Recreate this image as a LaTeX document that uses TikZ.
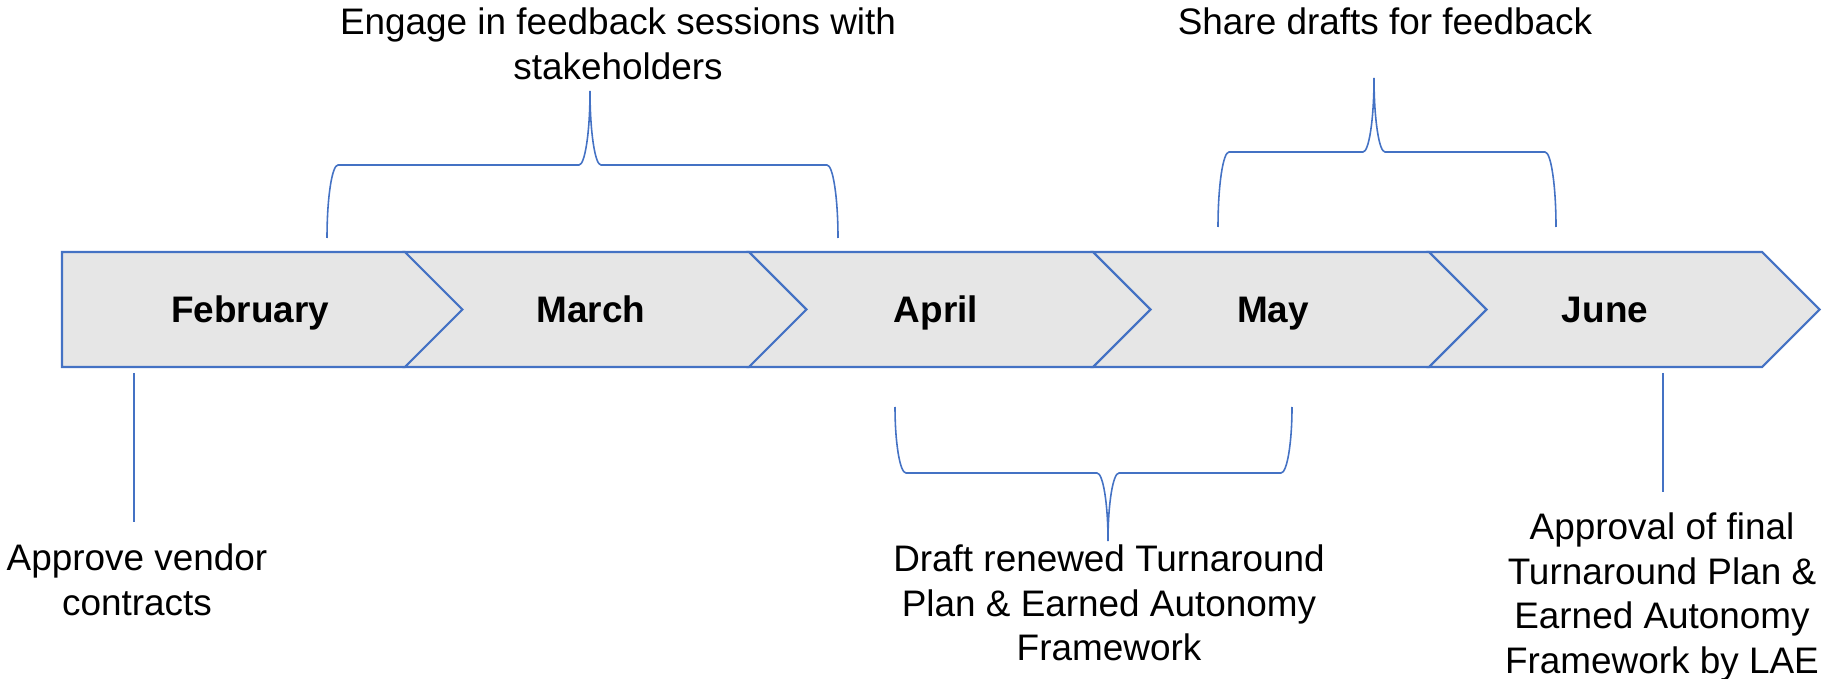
\documentclass[tikz,border=0pt]{standalone}
\usepackage{fontspec}
\setmainfont{Liberation Sans}
\usepackage{tikz}
\usetikzlibrary{calc,positioning}
\definecolor{rim}{HTML}{4472C4}
\definecolor{band}{HTML}{E6E6E6}
\definecolor{ink}{HTML}{000000}

\begin{document}
\begin{tikzpicture}[x=1cm,y=1cm,font=\fontsize{10.5}{12.7}\selectfont,
  chev/.style={draw=rim,fill=band,line width=0.6pt,line join=miter},
  curly/.style={draw=rim,line width=0.45pt},
  tick/.style={draw=rim,line width=0.45pt},
  month/.style={anchor=base,font=\fontsize{10.5}{12.7}\selectfont\bfseries,text=ink},
  note/.style={anchor=north,align=center,inner sep=0pt,text=ink}]
\useasboundingbox (0,0) rectangle (18.24,6.78);
% band: top 4.26, bottom 3.11, point depth 0.575
\draw[chev] (0.62,4.26) -- (4.05,4.26) -- (4.625,3.685) -- (4.05,3.11) -- (0.62,3.11) -- cycle;
\foreach \a/\b in {4.05/7.49, 7.49/10.93, 10.93/14.29, 14.29/17.62} {
 \draw[chev] (\a,4.26) -- (\b,4.26) -- ({\b+0.575},3.685) -- (\b,3.11) -- (\a,3.11) -- ({\a+0.575},3.685) -- cycle;
}
\foreach \xx/\id/\name in {2.50/feb/February, 5.91/mar/March, 9.36/apr/April, 12.73/may/May, 16.05/jun/June} {
 \node[month] (\id) at (\xx,3.55) {\name};
}
% braces: left x / right x / leg end / bar / tip x / tip end
\foreach \xl/\xr/\leg/\bar/\xt/\tip in {3.27/8.38/4.40/5.13/5.90/5.87, 12.18/15.56/4.51/5.26/13.74/6.00, 8.95/12.92/2.71/2.05/11.08/1.37} {
 \draw[curly] (\xl,\leg) .. controls (\xl,{\leg+0.552*(\bar-\leg)}) and ({\xl+0.05},\bar) .. ({\xl+0.11},\bar)
  -- ({\xt-0.11},\bar) .. controls ({\xt-0.05},\bar) and (\xt,{\bar+0.448*(\tip-\bar)}) .. (\xt,\tip)
  .. controls (\xt,{\bar+0.448*(\tip-\bar)}) and ({\xt+0.05},\bar) .. ({\xt+0.11},\bar)
  -- ({\xr-0.11},\bar) .. controls ({\xr-0.05},\bar) and (\xr,{\leg+0.552*(\bar-\leg)}) .. (\xr,\leg);
}
\node[note] (engage) at (6.18,6.71) {Engage in feedback sessions with\\stakeholders};
\node[note] (share) at (13.85,6.71) {Share drafts for feedback};
\node[note] (draft) at (11.09,1.34) {Draft renewed Turnaround\\Plan \& Earned Autonomy\\Framework};
\node[note] (approve) at (1.37,1.35) {Approve vendor\\contracts};
\node[note] (approval) at (16.62,1.66) {Approval of final\\Turnaround Plan \&\\Earned Autonomy\\Framework by LAE};
\coordinate (febtick) at (1.34,3.05);
\coordinate (juntick) at (16.63,3.05);
\draw[tick] (febtick) -- ([yshift=0.21cm]approve.north -| febtick);
\draw[tick] (juntick) -- ([yshift=0.20cm]approval.north -| juntick);
\end{tikzpicture}
\end{document}
